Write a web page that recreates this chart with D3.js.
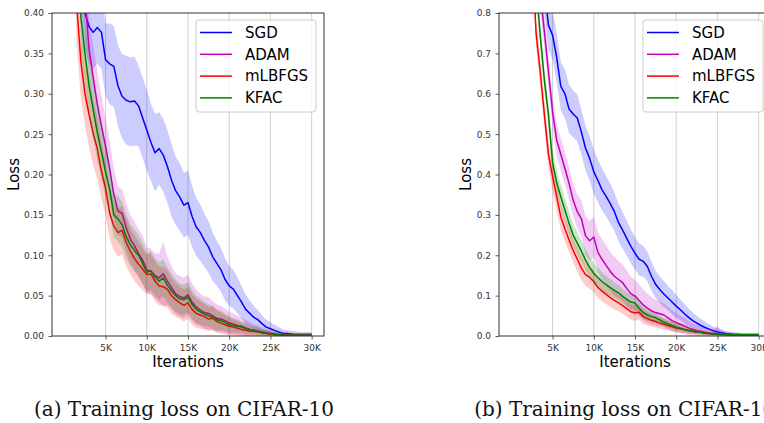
<!DOCTYPE html>
<html>
<head>
<meta charset="utf-8">
<script src="https://cdn.jsdelivr.net/npm/d3@7"></script>
<style>
  body { margin: 0; background: #fff; }
  svg { display: block; }
  .tick text { font-family: "DejaVu Sans", sans-serif; font-size: 9px; fill: #333; }
</style>
</head>
<body>
<div class="chart"></div>
<script>
var fullWidth = 764;
var fullHeight = 423;
var plotW = 272;
var plotH = 323;

// sampling positions (iterations)
var iterations = [
  1000, 1500, 2000, 2500, 3000, 3500, 4000, 4500, 5000, 5500,
  6000, 6500, 7000, 7500, 8000, 8500, 9000, 9500, 10000, 10500,
  11000, 11500, 12000, 12500, 13000, 13500, 14000, 14500, 15000, 15500,
  16000, 16500, 17000, 17500, 18000, 18500, 19000, 19500, 20000, 20500,
  21000, 21500, 22000, 22500, 23000, 23500, 24000, 24500, 25000, 25500,
  26000, 26500, 27000, 27500, 28000, 28500, 29000, 29500, 30000
];

var methods = ['SGD', 'ADAM', 'mLBFGS', 'KFAC'];
var xTicks = [5000, 10000, 15000, 20000, 25000, 30000];
var xTickLabels = ['5K', '10K', '15K', '20K', '25K', '30K'];
var c10YTicks = [0, 0.05, 0.10, 0.15, 0.20, 0.25, 0.30, 0.35, 0.40];
var c100YTicks = [0, 0.1, 0.2, 0.3, 0.4, 0.5, 0.6, 0.7, 0.8];

// CIFAR-10 (mean loss and band half width)
var c10Sgd = [
  1.2, 0.75, 0.45, 0.40, 0.383, 0.376, 0.382, 0.376, 0.342, 0.337,
  0.334, 0.31, 0.297, 0.292, 0.29, 0.291, 0.285, 0.27, 0.255, 0.24,
  0.227, 0.232, 0.224, 0.21, 0.193, 0.18, 0.172, 0.162, 0.165, 0.148,
  0.135, 0.128, 0.118, 0.11, 0.098, 0.09, 0.082, 0.07, 0.062, 0.058,
  0.05, 0.042, 0.033, 0.028, 0.023, 0.02, 0.015, 0.011, 0.009, 0.007,
  0.005, 0.0035, 0.003, 0.0025, 0.002, 0.002, 0.002, 0.002, 0.002
];
var c10SgdSd = [
  0.08, 0.07, 0.05, 0.045, 0.045, 0.045, 0.045, 0.045, 0.045, 0.05,
  0.05, 0.05, 0.052, 0.055, 0.055, 0.055, 0.05, 0.05, 0.05, 0.048,
  0.048, 0.045, 0.045, 0.045, 0.045, 0.042, 0.042, 0.04, 0.04, 0.038,
  0.036, 0.035, 0.033, 0.032, 0.03, 0.028, 0.027, 0.026, 0.025, 0.024,
  0.022, 0.02, 0.018, 0.016, 0.014, 0.012, 0.01, 0.009, 0.008, 0.007,
  0.006, 0.005, 0.004, 0.004, 0.004, 0.003, 0.003, 0.003, 0.003
];
var c10Adam = [
  1.4, 0.9, 0.5, 0.42, 0.355, 0.32, 0.287, 0.26, 0.235, 0.207,
  0.175, 0.155, 0.152, 0.134, 0.12, 0.112, 0.102, 0.094, 0.082, 0.08,
  0.075, 0.072, 0.077, 0.068, 0.06, 0.052, 0.049, 0.047, 0.051, 0.042,
  0.036, 0.032, 0.029, 0.028, 0.025, 0.022, 0.021, 0.019, 0.016, 0.015,
  0.013, 0.012, 0.01, 0.008, 0.007, 0.006, 0.005, 0.004, 0.003, 0.0025,
  0.002, 0.0015, 0.0015, 0.0012, 0.001, 0.001, 0.001, 0.001, 0.001
];
var c10AdamSd = [
  0.1, 0.08, 0.06, 0.045, 0.04, 0.04, 0.04, 0.038, 0.035, 0.035,
  0.032, 0.03, 0.03, 0.03, 0.03, 0.03, 0.03, 0.03, 0.028, 0.028,
  0.028, 0.03, 0.04, 0.03, 0.027, 0.025, 0.025, 0.025, 0.025, 0.023,
  0.022, 0.02, 0.02, 0.02, 0.018, 0.017, 0.016, 0.015, 0.014, 0.013,
  0.012, 0.011, 0.01, 0.009, 0.008, 0.007, 0.006, 0.005, 0.004, 0.004,
  0.003, 0.003, 0.003, 0.002, 0.002, 0.002, 0.002, 0.002, 0.002
];
var c10Lbfgs = [
  0.6, 0.41, 0.34, 0.3, 0.274, 0.251, 0.232, 0.204, 0.183, 0.152,
  0.136, 0.128, 0.131, 0.116, 0.105, 0.096, 0.089, 0.083, 0.076, 0.077,
  0.068, 0.062, 0.061, 0.058, 0.05, 0.045, 0.041, 0.038, 0.041, 0.033,
  0.028, 0.026, 0.024, 0.021, 0.022, 0.018, 0.016, 0.014, 0.012, 0.011,
  0.0095, 0.008, 0.007, 0.006, 0.0055, 0.005, 0.004, 0.003, 0.0025, 0.002,
  0.0015, 0.001, 0.001, 0.001, 0.001, 0.001, 0.001, 0.001, 0.001
];
var c10LbfgsSd = [
  0.08, 0.05, 0.045, 0.04, 0.04, 0.04, 0.038, 0.035, 0.033, 0.032,
  0.03, 0.03, 0.03, 0.03, 0.028, 0.028, 0.027, 0.026, 0.025, 0.025,
  0.025, 0.024, 0.024, 0.023, 0.022, 0.021, 0.02, 0.02, 0.02, 0.019,
  0.018, 0.017, 0.016, 0.015, 0.015, 0.014, 0.013, 0.012, 0.011, 0.01,
  0.009, 0.008, 0.007, 0.006, 0.005, 0.005, 0.004, 0.004, 0.003, 0.003,
  0.002, 0.002, 0.002, 0.002, 0.002, 0.002, 0.002, 0.002, 0.002
];
var c10Kfac = [
  1.0, 0.7, 0.395, 0.35, 0.31, 0.28, 0.252, 0.228, 0.203, 0.182,
  0.15, 0.145, 0.138, 0.123, 0.113, 0.106, 0.1, 0.09, 0.079, 0.081,
  0.073, 0.068, 0.072, 0.063, 0.056, 0.05, 0.046, 0.045, 0.048, 0.039,
  0.033, 0.03, 0.027, 0.025, 0.023, 0.02, 0.019, 0.017, 0.014, 0.013,
  0.012, 0.011, 0.009, 0.008, 0.007, 0.006, 0.004, 0.0035, 0.003, 0.002,
  0.0015, 0.0012, 0.001, 0.001, 0.001, 0.001, 0.001, 0.001, 0.001
];
var c10KfacSd = [
  0.08, 0.06, 0.045, 0.04, 0.038, 0.036, 0.035, 0.033, 0.032, 0.03,
  0.028, 0.028, 0.028, 0.027, 0.026, 0.026, 0.025, 0.025, 0.024, 0.024,
  0.023, 0.023, 0.023, 0.022, 0.021, 0.02, 0.019, 0.019, 0.019, 0.018,
  0.017, 0.016, 0.015, 0.014, 0.014, 0.013, 0.012, 0.011, 0.01, 0.009,
  0.008, 0.007, 0.007, 0.006, 0.005, 0.005, 0.004, 0.004, 0.003, 0.003,
  0.002, 0.002, 0.002, 0.002, 0.002, 0.002, 0.002, 0.002, 0.002
];

// CIFAR-100
var c100Sgd = [
  3.0, 2.6, 2.0, 1.5, 1.2, 1.0, 0.86, 0.77, 0.745, 0.69,
  0.618, 0.6, 0.562, 0.55, 0.54, 0.505, 0.465, 0.44, 0.407, 0.385,
  0.362, 0.346, 0.328, 0.308, 0.281, 0.262, 0.242, 0.222, 0.205, 0.19,
  0.185, 0.172, 0.148, 0.128, 0.115, 0.104, 0.094, 0.084, 0.074, 0.065,
  0.055, 0.046, 0.038, 0.032, 0.026, 0.021, 0.017, 0.013, 0.01, 0.008,
  0.006, 0.005, 0.004, 0.0035, 0.003, 0.003, 0.003, 0.003, 0.003
];
var c100SgdSd = [
  0.1, 0.1, 0.08, 0.07, 0.065, 0.06, 0.06, 0.06, 0.06, 0.06,
  0.06, 0.06, 0.06, 0.058, 0.058, 0.056, 0.055, 0.055, 0.055, 0.053,
  0.052, 0.05, 0.05, 0.048, 0.046, 0.045, 0.044, 0.042, 0.04, 0.04,
  0.038, 0.037, 0.035, 0.034, 0.033, 0.032, 0.03, 0.03, 0.028, 0.026,
  0.024, 0.022, 0.02, 0.018, 0.016, 0.014, 0.012, 0.01, 0.009, 0.008,
  0.007, 0.006, 0.005, 0.005, 0.004, 0.004, 0.004, 0.004, 0.004
];
var c100Adam = [
  2.9, 2.4, 1.8, 1.3, 1.0, 0.85, 0.755, 0.655, 0.555, 0.485,
  0.45, 0.415, 0.378, 0.336, 0.308, 0.29, 0.248, 0.236, 0.245, 0.207,
  0.19, 0.175, 0.16, 0.148, 0.14, 0.132, 0.118, 0.105, 0.099, 0.088,
  0.077, 0.069, 0.062, 0.058, 0.055, 0.052, 0.045, 0.038, 0.033, 0.029,
  0.025, 0.02, 0.016, 0.013, 0.011, 0.009, 0.007, 0.006, 0.005, 0.0045,
  0.004, 0.0035, 0.003, 0.003, 0.003, 0.003, 0.003, 0.003, 0.003
];
var c100AdamSd = [
  0.1, 0.1, 0.08, 0.06, 0.05, 0.045, 0.04, 0.04, 0.04, 0.04,
  0.04, 0.04, 0.04, 0.04, 0.042, 0.045, 0.048, 0.05, 0.05, 0.05,
  0.05, 0.05, 0.048, 0.048, 0.046, 0.045, 0.044, 0.042, 0.04, 0.04,
  0.038, 0.036, 0.034, 0.032, 0.03, 0.03, 0.028, 0.026, 0.024, 0.022,
  0.02, 0.018, 0.016, 0.014, 0.012, 0.01, 0.01, 0.012, 0.02, 0.01,
  0.006, 0.005, 0.005, 0.004, 0.004, 0.004, 0.004, 0.004, 0.004
];
var c100Lbfgs = [
  2.5, 2.0, 1.4, 0.95, 0.75, 0.655, 0.55, 0.45, 0.395, 0.345,
  0.295, 0.265, 0.238, 0.212, 0.19, 0.168, 0.152, 0.145, 0.135, 0.12,
  0.111, 0.103, 0.095, 0.088, 0.082, 0.075, 0.068, 0.06, 0.057, 0.059,
  0.048, 0.043, 0.039, 0.036, 0.032, 0.029, 0.026, 0.023, 0.02, 0.018,
  0.016, 0.013, 0.012, 0.01, 0.009, 0.007, 0.006, 0.005, 0.0045, 0.004,
  0.0035, 0.003, 0.003, 0.003, 0.003, 0.003, 0.003, 0.003, 0.003
];
var c100LbfgsSd = [
  0.08, 0.06, 0.05, 0.04, 0.035, 0.035, 0.035, 0.035, 0.035, 0.035,
  0.033, 0.032, 0.03, 0.03, 0.03, 0.03, 0.028, 0.028, 0.027, 0.026,
  0.025, 0.024, 0.023, 0.022, 0.021, 0.02, 0.02, 0.02, 0.02, 0.019,
  0.018, 0.017, 0.016, 0.015, 0.014, 0.013, 0.012, 0.012, 0.011, 0.01,
  0.009, 0.008, 0.007, 0.006, 0.006, 0.005, 0.005, 0.004, 0.004, 0.003,
  0.003, 0.003, 0.003, 0.003, 0.003, 0.003, 0.003, 0.003, 0.003
];
var c100Kfac = [
  2.7, 2.2, 1.6, 1.1, 0.87, 0.745, 0.635, 0.548, 0.43, 0.38,
  0.345, 0.312, 0.279, 0.25, 0.23, 0.21, 0.188, 0.17, 0.155, 0.145,
  0.135, 0.127, 0.12, 0.113, 0.107, 0.098, 0.091, 0.084, 0.082, 0.068,
  0.058, 0.052, 0.048, 0.045, 0.04, 0.034, 0.03, 0.026, 0.022, 0.019,
  0.016, 0.014, 0.012, 0.01, 0.009, 0.007, 0.006, 0.005, 0.0045, 0.004,
  0.0035, 0.003, 0.003, 0.003, 0.003, 0.003, 0.003, 0.003, 0.003
];
var c100KfacSd = [
  0.08, 0.06, 0.05, 0.04, 0.035, 0.032, 0.03, 0.03, 0.03, 0.03,
  0.03, 0.03, 0.03, 0.028, 0.028, 0.027, 0.026, 0.025, 0.025, 0.024,
  0.023, 0.022, 0.021, 0.02, 0.02, 0.019, 0.018, 0.018, 0.017, 0.016,
  0.015, 0.014, 0.013, 0.012, 0.011, 0.01, 0.01, 0.009, 0.008, 0.008,
  0.007, 0.006, 0.006, 0.005, 0.005, 0.004, 0.004, 0.004, 0.003, 0.003,
  0.003, 0.003, 0.003, 0.003, 0.003, 0.003, 0.003, 0.003, 0.003
];

var colors = ['#0000ff', '#bf00bf', '#ff0000', '#008000'];

var svg = d3.select('.chart')
  .append('svg')
  .attr('width', fullWidth)
  .attr('height', fullHeight);

svg.append('rect')
  .attr('width', fullWidth)
  .attr('height', fullHeight)
  .style('fill', '#fff');

drawPanel('c10', 52, 0.4, c10YTicks, d3.format('.2f'), -38,
  [[c10Sgd, c10SgdSd], [c10Adam, c10AdamSd], [c10Lbfgs, c10LbfgsSd], [c10Kfac, c10KfacSd]],
  '(a) Training loss on CIFAR-10');
drawPanel('c100', 499, 0.8, c100YTicks, d3.format('.1f'), -33,
  [[c100Sgd, c100SgdSd], [c100Adam, c100AdamSd], [c100Lbfgs, c100LbfgsSd], [c100Kfac, c100KfacSd]],
  '(b) Training loss on CIFAR-100');

function drawPanel(id, left, yMax, yTicks, yFmt, labelX, series, caption) {
  var g = svg.append('g')
    .attr('transform', `translate(${left}, 13)`);

  var xScale = d3.scaleLinear().domain([-1500, 31500]).range([0, plotW]);
  var yScale = d3.scaleLinear().domain([0, yMax]).range([plotH, 0]);

  // vertical grid only
  g.selectAll('.grid')
    .data(xTicks)
    .enter()
    .append('line')
    .attr('class', 'grid')
    .attr('x1', d => xScale(d))
    .attr('x2', d => xScale(d))
    .attr('y1', 0)
    .attr('y2', plotH)
    .style('stroke', '#cfcfcf')
    .style('stroke-width', 1);

  g.append('clipPath')
    .attr('id', 'clip-' + id)
    .append('rect')
    .attr('width', plotW)
    .attr('height', plotH);

  var plot = g.append('g').attr('clip-path', `url(#clip-${id})`);

  var line = d3.line()
    .x((d, i) => xScale(iterations[i]))
    .y(d => yScale(d));

  series.forEach((s, k) => {
    var mean = s[0], sd = s[1];
    var band = d3.area()
      .x((d, i) => xScale(iterations[i]))
      .y0((d, i) => yScale(d - sd[i]))
      .y1((d, i) => yScale(d + sd[i]));

    plot.append('path')
      .attr('d', band(mean))
      .style('fill', colors[k])
      .style('fill-opacity', 0.2)
      .style('stroke', 'none');

    plot.append('path')
      .attr('d', line(mean))
      .style('fill', 'none')
      .style('stroke', colors[k])
      .style('stroke-width', 1.5)
      .style('stroke-linejoin', 'round');
  });

  // axes
  var xAxis = g.append('g')
    .attr('transform', `translate(0, ${plotH})`)
    .call(d3.axisBottom(xScale)
      .tickValues(xTicks)
      .tickFormat((d, i) => xTickLabels[i])
      .tickSize(3.5)
      .tickPadding(5));
  var yAxis = g.append('g')
    .call(d3.axisLeft(yScale)
      .tickValues(yTicks)
      .tickFormat(yFmt)
      .tickSize(3.5)
      .tickPadding(4.5));
  [xAxis, yAxis].forEach(a => {
    a.select('.domain').remove();
    a.selectAll('.tick line').style('stroke', '#333').style('stroke-width', 0.8);
  });

  // spines
  g.append('rect')
    .attr('width', plotW)
    .attr('height', plotH)
    .style('fill', 'none')
    .style('stroke', '#333')
    .style('stroke-width', 1);

  // legend
  var lg = g.append('g').attr('transform', 'translate(144, 7)');
  lg.append('rect')
    .attr('width', 120)
    .attr('height', 92)
    .attr('rx', 3)
    .style('fill', '#fff')
    .style('fill-opacity', 0.8)
    .style('stroke', '#cccccc')
    .style('stroke-width', 1);
  methods.forEach((m, k) => {
    var yy = 12.5 + k * 21.8;
    lg.append('line')
      .attr('x1', 4).attr('x2', 36)
      .attr('y1', yy).attr('y2', yy)
      .style('stroke', colors[k])
      .style('stroke-width', 1.5);
    lg.append('text')
      .attr('x', 49)
      .attr('y', yy)
      .attr('dy', '0.35em')
      .style('font-family', '"DejaVu Sans", sans-serif')
      .style('font-size', '15px')
      .style('fill', '#000')
      .text(m);
  });

  // axis labels
  g.append('text')
    .attr('transform', `translate(${labelX}, ${plotH / 2}) rotate(-90)`)
    .attr('dy', '0.35em')
    .style('text-anchor', 'middle')
    .style('font-family', '"DejaVu Sans", sans-serif')
    .style('font-size', '15px')
    .text('Loss');

  g.append('text')
    .attr('x', plotW / 2)
    .attr('y', 354)
    .style('text-anchor', 'middle')
    .style('font-family', '"DejaVu Sans", sans-serif')
    .style('font-size', '15px')
    .text('Iterations');

  // caption under the subfigure
  g.append('text')
    .attr('x', 132)
    .attr('y', 403)
    .style('text-anchor', 'middle')
    .style('font-family', '"DejaVu Serif", serif')
    .style('font-size', '20px')
    .style('fill', '#111')
    .text(caption);
}
</script>
</body>
</html>
